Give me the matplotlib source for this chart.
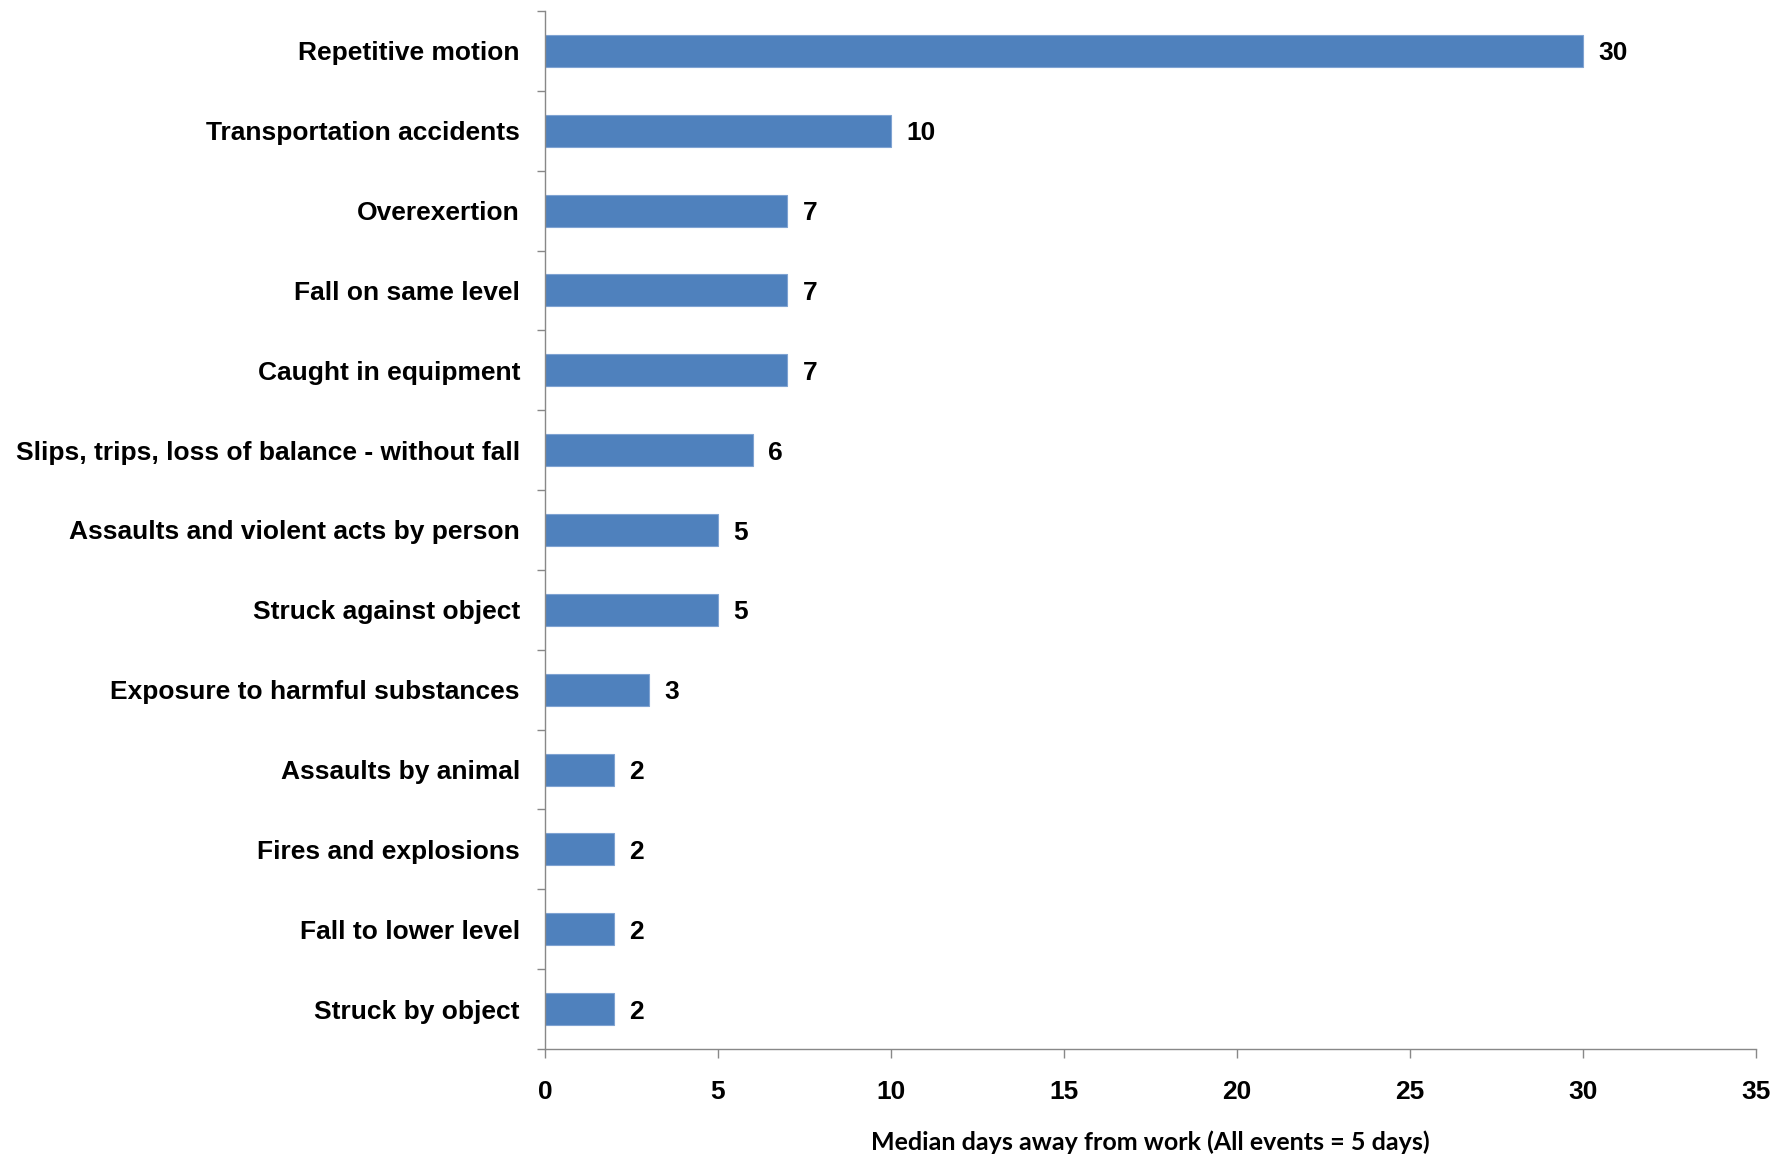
import matplotlib
matplotlib.use("Agg")
import matplotlib.pyplot as plt
import numpy as np

categories = [
    "Repetitive motion",
    "Transportation accidents",
    "Overexertion",
    "Fall on same level",
    "Caught in equipment",
    "Slips, trips, loss of balance - without fall",
    "Assaults and violent acts by person",
    "Struck against object",
    "Exposure to harmful substances",
    "Assaults by animal",
    "Fires and explosions",
    "Fall to lower level",
    "Struck by object",
]
values = [30, 10, 7, 7, 7, 6, 5, 5, 3, 2, 2, 2, 2]
xticks = [0, 5, 10, 15, 20, 25, 30, 35]
xlabel = "Median days away from work (All events = 5 days)"

plt.rcParams['font.family'] = ['Liberation Sans', 'DejaVu Sans']

fig = plt.figure(figsize=(17.88, 11.56), dpi=100)
ax = fig.add_axes([545/1788, 1 - 1049/1156, (1756-545)/1788, (1049-11)/1156])

n = len(categories)
y = np.arange(n)
ax.barh(y, values, height=0.4, color='#4F81BD', edgecolor='#7FA3D2', linewidth=0.8, zorder=2)

ax.set_xlim(0, 35)
ax.set_ylim(n - 0.5, -0.5)

ax.set_yticks(y)
ax.set_yticklabels(categories, fontsize=19, fontweight='bold')
ax.set_yticks(np.arange(-0.5, n, 1.0), minor=True)
ax.tick_params(axis='y', which='major', length=0, pad=18)
ax.tick_params(axis='y', which='minor', length=6, width=1.0, color='#888888', direction='out')

ax.set_xticks(xticks)
ax.set_xticklabels([str(t) for t in xticks], fontsize=19, fontweight='bold')
ax.tick_params(axis='x', which='major', length=6.5, width=1.0, color='#888888', direction='out', pad=15.5)

for s in ['top', 'right']:
    ax.spines[s].set_visible(False)
for s in ['left', 'bottom']:
    ax.spines[s].set_color('#888888')
    ax.spines[s].set_linewidth(1.0)

for yi, v in zip(y, values):
    ax.annotate(str(v), xy=(v, yi), xytext=(11, 0), textcoords='offset points',
                va='center_baseline', ha='left', fontsize=19, fontweight='bold')

ax.set_xlabel(xlabel, fontsize=18, fontweight='bold', family=['Lato', 'DejaVu Sans'], labelpad=19)

fig.savefig("out.png", dpi=100, facecolor='white')
